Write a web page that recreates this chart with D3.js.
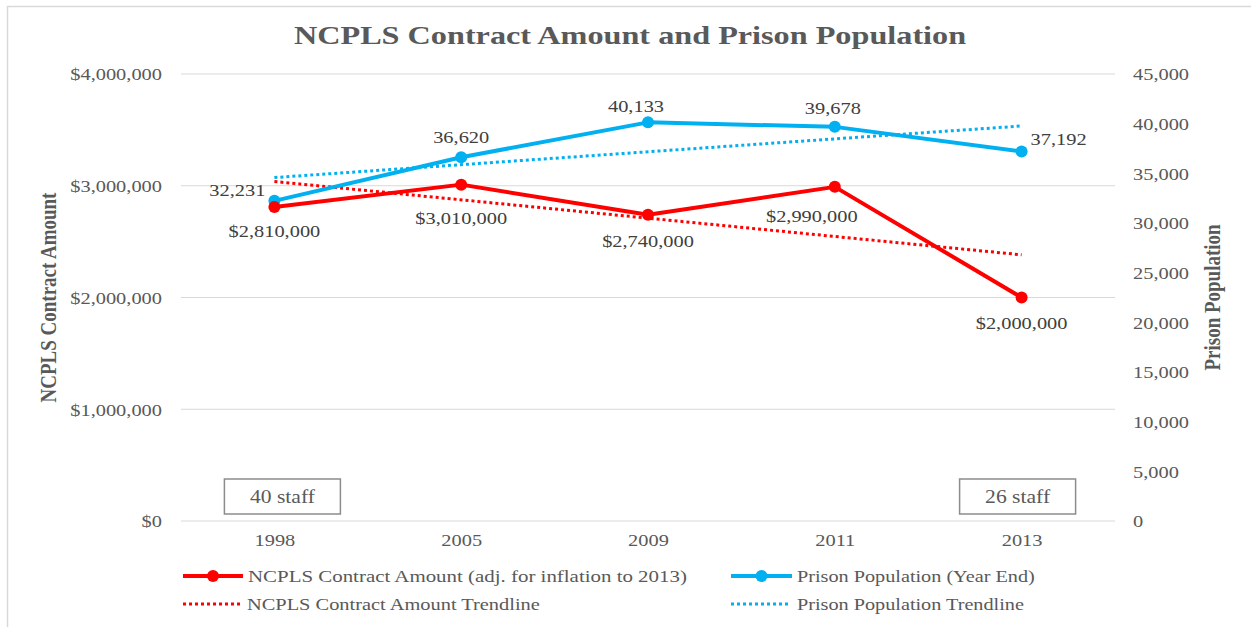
<!DOCTYPE html>
<html>
<head>
<meta charset="utf-8">
<script src="https://cdn.jsdelivr.net/npm/d3@7"></script>
<style>
  html, body { margin: 0; padding: 0; background: #fff; }
  svg { display: block; }
  text { font-family: "Liberation Serif", "Times New Roman", serif; }
</style>
</head>
<body>
<svg id="chart" width="1251" height="627"></svg>
<script>
// ---------- data ----------
const years = ["1998", "2005", "2009", "2011", "2013"];
const contractAmount = [2810000, 3010000, 2740000, 2990000, 2000000];
const prisonPopulation = [32231, 36620, 40133, 39678, 37192];
const leftTicks = [0, 1000000, 2000000, 3000000, 4000000];
const rightTicks = [0, 5000, 10000, 15000, 20000, 25000, 30000, 35000, 40000, 45000];
const staffNotes = ["40 staff", "26 staff"];
const titleText = "NCPLS Contract Amount and Prison Population";
const leftTitle = "NCPLS Contract Amount";
const rightTitle = "Prison Population";
const legendLabels = [
  "NCPLS Contract Amount (adj. for inflation to 2013)",
  "Prison Population (Year End)",
  "NCPLS Contract Amount Trendline",
  "Prison Population Trendline"
];

// ---------- setup ----------
const W = 1251, H = 627;
const SX = 1.2; // horizontal stretch of the glyphs in the reference
const RED = "#FF0000", BLUE = "#00B0F0", TXT = "#595959", GRID = "#D9D9D9";
const svg = d3.select("#chart");

const plot = { left: 181, right: 1115, top: 74, bottom: 521 };

const x = d3.scalePoint().domain(years).range([plot.left, plot.right]).padding(0.5);
const yL = d3.scaleLinear().domain([0, 4000000]).range([plot.bottom, plot.top]);
const yR = d3.scaleLinear().domain([0, 45000]).range([plot.bottom, plot.top]);

function txt(parent, px, py, str, o = {}) {
  const sx = o.sx || SX;
  return parent.append("text")
    .attr("transform", `translate(${px},${py}) scale(${sx},1)`)
    .attr("text-anchor", o.anchor || "middle")
    .attr("font-size", o.size || 17)
    .attr("font-weight", o.weight || "normal")
    .attr("fill", o.fill || TXT)
    .text(str);
}

// outer frame
svg.append("rect").attr("x", 7.5).attr("y", 6.5).attr("width", W).attr("height", H)
  .attr("fill", "none").attr("stroke", GRID).attr("stroke-width", 1.5);

// title
txt(svg, 630, 44, titleText, { size: 26, weight: "bold", sx: 1.24 });

// gridlines
svg.append("g").selectAll("line").data(leftTicks).join("line")
  .attr("x1", plot.left).attr("x2", plot.right)
  .attr("y1", d => yL(d)).attr("y2", d => yL(d))
  .attr("stroke", GRID).attr("stroke-width", 1.2);

// left axis
const fmtMoney = d => "$" + d3.format(",")(d);
const axL = svg.append("g").attr("transform", `translate(${plot.left},0)`)
  .call(d3.axisLeft(yL).tickValues(leftTicks).tickFormat(fmtMoney).tickSize(0).tickPadding(0));
axL.select(".domain").remove();
axL.selectAll(".tick text").each(function () {
  const t = d3.select(this);
  t.attr("x", null).attr("dy", "0.34em")
    .attr("transform", `translate(-19,0) scale(${SX},1)`)
    .attr("font-size", 17).attr("fill", TXT)
    .attr("font-family", "Liberation Serif, Times New Roman, serif");
});

// right axis
const axR = svg.append("g").attr("transform", `translate(${plot.right},0)`)
  .call(d3.axisRight(yR).tickValues(rightTicks).tickFormat(d3.format(",")).tickSize(0).tickPadding(0));
axR.select(".domain").remove();
axR.selectAll(".tick text").each(function () {
  const t = d3.select(this);
  t.attr("x", null).attr("dy", "0.34em")
    .attr("transform", `translate(18,0) scale(${SX},1)`)
    .attr("font-size", 17).attr("fill", TXT)
    .attr("font-family", "Liberation Serif, Times New Roman, serif");
});

// bottom axis (category labels)
const axB = svg.append("g").attr("transform", `translate(0,${plot.bottom})`)
  .call(d3.axisBottom(x).tickSize(0).tickPadding(0));
axB.select(".domain").remove();
axB.selectAll(".tick text").each(function () {
  d3.select(this).attr("y", null).attr("dy", null)
    .attr("transform", `translate(0,25) scale(${SX},1)`)
    .attr("font-size", 17).attr("fill", TXT)
    .attr("font-family", "Liberation Serif, Times New Roman, serif");
});

// axis titles
svg.append("text")
  .attr("transform", `translate(56,${(plot.top + plot.bottom) / 2}) scale(${SX},1) rotate(-90)`)
  .attr("text-anchor", "middle").attr("font-size", 19).attr("font-weight", "bold").attr("fill", TXT)
  .text(leftTitle);
svg.append("text")
  .attr("transform", `translate(1220,${(plot.top + plot.bottom) / 2}) scale(${SX},1) rotate(-90)`)
  .attr("text-anchor", "middle").attr("font-size", 19).attr("font-weight", "bold").attr("fill", TXT)
  .text(rightTitle);

// trendlines (least-squares linear fit over category index, as Excel does)
function linFit(vals) {
  const xs = vals.map((_, i) => i + 1);
  const mx = d3.mean(xs), my = d3.mean(vals);
  const b = d3.sum(xs.map((xi, i) => (xi - mx) * (vals[i] - my))) / d3.sum(xs.map(xi => (xi - mx) ** 2));
  const a = my - b * mx;
  return xs.map(xi => a + b * xi);
}
const contractTrend = linFit(contractAmount);
const popTrend = linFit(prisonPopulation);

const lineL = d3.line().x((d, i) => x(years[i])).y(d => yL(d));
const lineR = d3.line().x((d, i) => x(years[i])).y(d => yR(d));
const ends = arr => [arr[0], arr[arr.length - 1]];
const lineEndsL = d3.line().x((d, i) => x(years[i === 0 ? 0 : years.length - 1])).y(d => yL(d));
const lineEndsR = d3.line().x((d, i) => x(years[i === 0 ? 0 : years.length - 1])).y(d => yR(d));

svg.append("path").datum(ends(popTrend)).attr("d", lineEndsR)
  .attr("fill", "none").attr("stroke", BLUE).attr("stroke-width", 3).attr("stroke-dasharray", "3,3");
svg.append("path").datum(ends(contractTrend)).attr("d", lineEndsL)
  .attr("fill", "none").attr("stroke", RED).attr("stroke-width", 3).attr("stroke-dasharray", "3,3");

// series lines
svg.append("path").datum(prisonPopulation).attr("d", lineR)
  .attr("fill", "none").attr("stroke", BLUE).attr("stroke-width", 4).attr("stroke-linejoin", "round");
svg.append("path").datum(contractAmount).attr("d", lineL)
  .attr("fill", "none").attr("stroke", RED).attr("stroke-width", 4).attr("stroke-linejoin", "round");

svg.append("g").selectAll("circle").data(prisonPopulation).join("circle")
  .attr("cx", (d, i) => x(years[i])).attr("cy", d => yR(d)).attr("r", 6).attr("fill", BLUE);
svg.append("g").selectAll("circle").data(contractAmount).join("circle")
  .attr("cx", (d, i) => x(years[i])).attr("cy", d => yL(d)).attr("r", 6).attr("fill", RED);

// data labels (offsets from each point)
const popLabelOff = [[-9, -5, "end"], [0, -14, "middle"], [-12, -10, "middle"], [-2, -13, "middle"], [9, -7, "start"]];
const conLabelOff = [[0, 30, "middle"], [0, 39, "middle"], [0, 32, "middle"], [-23, 35, "middle"], [0, 31, "middle"]];
const LBL = "#404040";
prisonPopulation.forEach((v, i) => {
  const o = popLabelOff[i];
  txt(svg, x(years[i]) + o[0], yR(v) + o[1], d3.format(",")(v), { anchor: o[2], fill: LBL });
});
contractAmount.forEach((v, i) => {
  const o = conLabelOff[i];
  txt(svg, x(years[i]) + o[0], yL(v) + o[1], fmtMoney(v), { anchor: o[2], fill: LBL });
});

// staff annotation boxes
const staffAnchors = [years[0], years[years.length - 1]];
const staffOff = [8, -4];
staffNotes.forEach((s, i) => {
  const cx = x(staffAnchors[i]) + staffOff[i];
  svg.append("rect").attr("x", cx - 58).attr("y", plot.bottom - 42).attr("width", 116).attr("height", 35)
    .attr("fill", "#fff").attr("stroke", "#8c8c8c").attr("stroke-width", 1.5);
  txt(svg, cx, plot.bottom - 18, s, { size: 18, fill: TXT });
});

// legend
const leg = svg.append("g");
const legItems = [
  { x0: 183, x1: 243, y: 576, color: RED, dotted: false, label: legendLabels[0], sx: 1.23 },
  { x0: 731, x1: 792, y: 576, color: BLUE, dotted: false, label: legendLabels[1], sx: 1.19 },
  { x0: 183, x1: 240, y: 604, color: RED, dotted: true, label: legendLabels[2], sx: 1.2 },
  { x0: 731, x1: 790, y: 604, color: BLUE, dotted: true, label: legendLabels[3], sx: 1.19 }
];
legItems.forEach(it => {
  leg.append("line").attr("x1", it.x0).attr("x2", it.x1).attr("y1", it.y).attr("y2", it.y)
    .attr("stroke", it.color).attr("stroke-width", it.dotted ? 3 : 4)
    .attr("stroke-dasharray", it.dotted ? "3,3" : null);
  if (!it.dotted) {
    leg.append("circle").attr("cx", (it.x0 + it.x1) / 2).attr("cy", it.y).attr("r", 6).attr("fill", it.color);
  }
  txt(leg, (it.x1 + (it.dotted ? 7 : 5)), it.y + 6, it.label, { anchor: "start", size: 17, fill: TXT, sx: it.sx });
});
</script>
</body>
</html>
